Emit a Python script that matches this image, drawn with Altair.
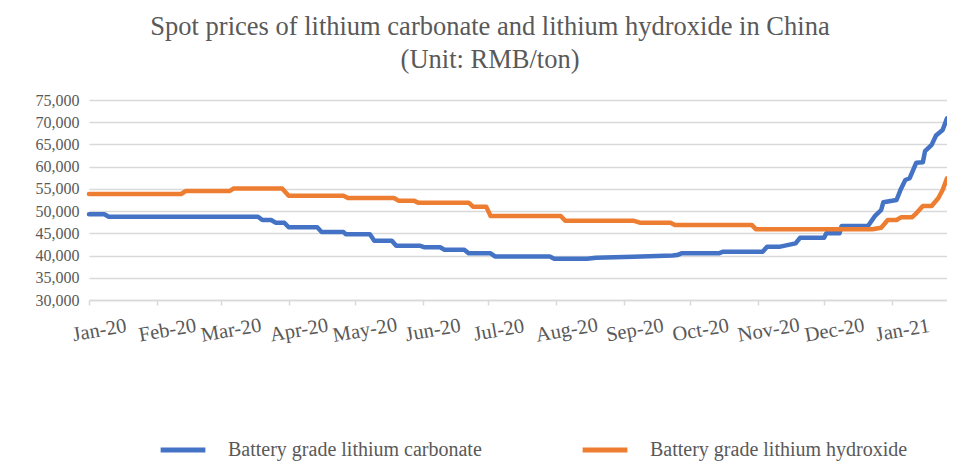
import altair as alt
import pandas as pd

SERIES = ["Battery grade lithium carbonate", "Battery grade lithium hydroxide"]
COLORS = ["#4472C4", "#ED7D31"]

carb_dates = [
    "2020-01-01", "2020-01-08", "2020-01-10", "2020-03-18", "2020-03-20", "2020-03-24",
    "2020-03-26", "2020-03-30", "2020-04-01", "2020-04-14", "2020-04-16", "2020-04-26",
    "2020-04-27", "2020-05-08", "2020-05-10", "2020-05-18", "2020-05-20", "2020-05-31",
    "2020-06-02", "2020-06-09", "2020-06-11", "2020-06-20", "2020-06-22", "2020-07-02",
    "2020-07-04", "2020-07-29", "2020-07-31", "2020-08-15", "2020-08-19", "2020-09-05",
    "2020-09-23", "2020-09-25", "2020-09-27", "2020-10-14", "2020-10-16", "2020-11-03",
    "2020-11-05", "2020-11-11", "2020-11-18", "2020-11-20", "2020-12-01", "2020-12-02",
    "2020-12-08", "2020-12-09", "2020-12-21", "2020-12-24", "2020-12-27", "2020-12-28",
    "2021-01-03", "2021-01-05", "2021-01-07", "2021-01-09", "2021-01-12", "2021-01-15",
    "2021-01-16", "2021-01-19", "2021-01-21", "2021-01-24", "2021-01-26",
]
carb_values = [
    49300, 49300, 48750, 48750, 48000, 48000,
    47400, 47400, 46350, 46350, 45300, 45300,
    44800, 44800, 43350, 43350, 42200, 42200,
    41850, 41850, 41300, 41300, 40500, 40500,
    39800, 39800, 39300, 39300, 39500, 39750,
    40000, 40100, 40500, 40500, 40870, 40870,
    42000, 42000, 42750, 44000, 44000, 45000,
    45000, 46650, 46650, 48800, 50250, 52000,
    52500, 55000, 57000, 57400, 60900, 61000,
    63500, 64900, 67000, 68250, 70900,
]

hydr_dates = [
    "2020-01-01", "2020-02-12", "2020-02-14", "2020-03-05", "2020-03-07", "2020-03-29",
    "2020-04-01", "2020-04-26", "2020-04-28", "2020-05-19", "2020-05-21", "2020-05-28",
    "2020-05-30", "2020-06-22", "2020-06-24", "2020-06-30", "2020-07-02", "2020-08-03",
    "2020-08-05", "2020-09-05", "2020-09-08", "2020-09-22", "2020-09-24", "2020-10-29",
    "2020-10-31", "2020-12-23", "2020-12-27", "2020-12-30", "2021-01-03", "2021-01-05",
    "2021-01-10", "2021-01-12", "2021-01-15", "2021-01-19", "2021-01-22", "2021-01-24",
    "2021-01-26",
]
hydr_values = [
    53850, 53850, 54500, 54500, 55100, 55100,
    53450, 53450, 52950, 52950, 52350, 52350,
    51900, 51900, 51000, 51000, 48900, 48900,
    47850, 47850, 47400, 47400, 46900, 46900,
    45900, 45900, 46270, 48000, 48000, 48600,
    48600, 49500, 51150, 51150, 52900, 54750,
    57400,
]

month_ticks = [
    "2020-01-01", "2020-02-01", "2020-03-01", "2020-04-01", "2020-05-01", "2020-06-01",
    "2020-07-01", "2020-08-01", "2020-09-01", "2020-10-01", "2020-11-01", "2020-12-01",
    "2021-01-01",
]
y_ticks = [30000, 35000, 40000, 45000, 50000, 55000, 60000, 65000, 70000, 75000]

df = pd.concat([
    pd.DataFrame({"date": carb_dates, "price": carb_values, "series": SERIES[0]}),
    pd.DataFrame({"date": hydr_dates, "price": hydr_values, "series": SERIES[1]}),
])

FONT = "Liberation Serif"
GREY = "#595959"
GRID = "#d9d9d9"

chart = alt.Chart(df).mark_line(strokeWidth=4.5, strokeJoin="round", strokeCap="round").encode(
    x=alt.X("date:T",
            scale=alt.Scale(domain=["2020-01-01", "2021-01-26"], nice=False),
            axis=alt.Axis(values=month_ticks, format="%b-%y", formatType="time",
                          title=None, grid=False, labelAngle=350, labelFont=FONT,
                          labelFontSize=20.5, labelColor=GREY, labelAlign="center",
                          labelBaseline="middle", labelPadding=25, labelOffset=10,
                          domainColor=GRID, domainWidth=1.5, tickColor=GRID,
                          tickWidth=1.5, tickSize=5, labelOverlap=False)),
    y=alt.Y("price:Q",
            scale=alt.Scale(domain=[30000, 75000], nice=False, zero=False),
            axis=alt.Axis(values=y_ticks, format=",.0f", title=None, domain=False, ticks=False,
                          labelFont=FONT, labelFontSize=16, labelColor=GREY,
                          labelPadding=10, gridColor=GRID, gridWidth=1.5)),
    color=alt.Color("series:N",
                    scale=alt.Scale(domain=SERIES, range=COLORS),
                    legend=alt.Legend(title=None, orient="none", direction="horizontal",
                                      columns=2, legendX=69, legendY=325,
                                      symbolType="stroke", symbolStrokeWidth=5,
                                      symbolSize=2000, labelFont=FONT, labelFontSize=20,
                                      labelColor=GREY, labelOffset=20, columnPadding=90,
                                      padding=0, labelLimit=400)),
).properties(
    width=858,
    height=200,
    padding={"left": 81, "top": 92, "right": 0, "bottom": 162},
    autosize=alt.AutoSizeParams(type="none"),
    title=alt.TitleParams(
        text=["Spot prices of lithium carbonate and lithium hydroxide in China", "(Unit: RMB/ton)"],
        font=FONT, fontSize=26.5, fontWeight="normal", color=GREY,
        anchor="middle", dx=-28, offset=19, lineHeight=33,
    ),
).configure_view(stroke=None)

chart.save("out.html", embed_options={"renderer": "svg", "actions": False})
